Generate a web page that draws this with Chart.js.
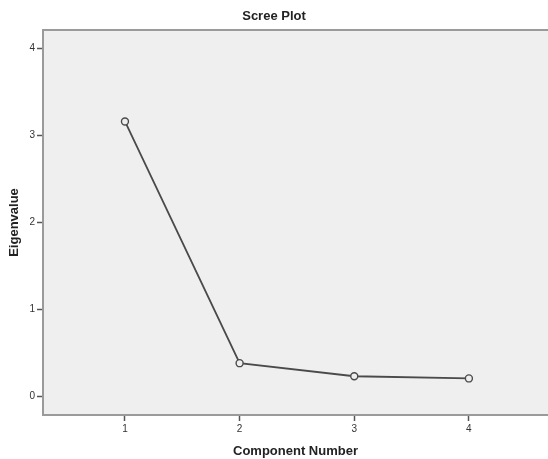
<!DOCTYPE html>
<html>
<head>
<meta charset="utf-8">
<script src="https://cdn.jsdelivr.net/npm/chart.js@4/dist/chart.umd.min.js"></script>
<style>
  body { margin: 0; background: #fff; }
  #wrap { width: 548px; height: 459px; }
</style>
</head>
<body>
<div id="wrap"><canvas id="screeChart" width="548" height="459"></canvas></div>
<script>
// data
const components = [1, 2, 3, 4];
const eigenvalues = [3.16, 0.385, 0.235, 0.21];
const xTicks = [1, 2, 3, 4];
const yTicks = [0, 1, 2, 3, 4];

const plotBg = {
  id: "plotBg",
  beforeDraw(chart) {
    const { ctx, chartArea: a } = chart;
    ctx.save();
    ctx.fillStyle = "#efefef";
    ctx.fillRect(a.left, a.top, a.right - a.left, a.bottom - a.top);
    ctx.strokeStyle = "#9a9a9a";
    ctx.lineWidth = 2;
    ctx.beginPath();
    ctx.moveTo(a.left, a.top);
    ctx.lineTo(a.right, a.top);
    ctx.stroke();
    ctx.restore();
  }
};

const points = components.map((c, i) => ({ x: c, y: eigenvalues[i] }));

new Chart(document.getElementById("screeChart"), {
  type: "scatter",
  data: {
    datasets: [{
      data: points,
      showLine: true,
      borderColor: "#4a4a4a",
      borderWidth: 1.8,
      pointRadius: 3.5,
      pointBorderWidth: 1.4,
      pointBorderColor: "#4a4a4a",
      pointBackgroundColor: "#efefef"
    }]
  },
  options: {
    responsive: false,
    animation: false,
    layout: { padding: 0, autoPadding: false },
    plugins: {
      legend: { display: false },
      tooltip: { enabled: false },
      title: {
        display: true,
        text: "Scree Plot",
        color: "#222",
        font: { family: "Liberation Sans, Arial", size: 13, weight: "bold", lineHeight: 1.2 },
        padding: { top: 9, bottom: 5.4 }
      }
    },
    scales: {
      x: {
        type: "linear",
        min: 0.285,
        max: 4.69,
        afterBuildTicks: s => { s.ticks = xTicks.map(v => ({ value: v })); },
        afterFit: s => { s.height = 44; s.paddingLeft = 0; s.paddingRight = 0; },
        ticks: {
          color: "#333",
          padding: 2,
          font: { family: "Liberation Sans, Arial", size: 10 }
        },
        grid: { drawOnChartArea: false, tickLength: 6, tickColor: "#555", tickWidth: 1.5 },
        border: { display: true, color: "#9a9a9a", width: 2 },
        title: {
          display: true,
          text: "Component Number",
          color: "#222",
          padding: { top: 0, bottom: 0 },
          font: { family: "Liberation Sans, Arial", size: 13, weight: "bold", lineHeight: 1.2 }
        }
      },
      y: {
        min: -0.21,
        max: 4.21,
        afterBuildTicks: s => { s.ticks = yTicks.map(v => ({ value: v })); },
        afterFit: s => { s.width = 43; s.paddingTop = 0; s.paddingBottom = 0; },
        ticks: {
          color: "#333",
          padding: 2,
          font: { family: "Liberation Sans, Arial", size: 10 }
        },
        grid: { drawOnChartArea: false, tickLength: 6, tickColor: "#555", tickWidth: 1.5 },
        border: { display: true, color: "#9a9a9a", width: 2 },
        title: {
          display: true,
          text: "Eigenvalue",
          color: "#222",
          padding: { top: 7, bottom: 0 },
          font: { family: "Liberation Sans, Arial", size: 13, weight: "bold", lineHeight: 1.2 }
        }
      }
    }
  },
  plugins: [plotBg]
});
</script>
</body>
</html>
